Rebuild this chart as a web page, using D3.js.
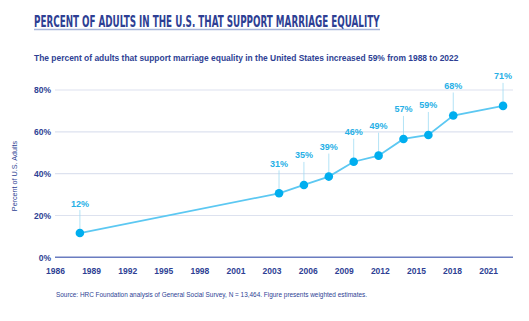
<!DOCTYPE html>
<html><head><meta charset="utf-8">
<script src="https://cdn.jsdelivr.net/npm/d3@7"></script>
<style>body{margin:0;background:#fff}svg{display:block}</style>
</head><body>
<script>
const years = [1988, 2004, 2006, 2008, 2010, 2012, 2014, 2016, 2018, 2022];
const values = [11.6, 30.6, 34.6, 38.6, 45.7, 48.6, 56.6, 58.5, 67.8, 72.4];
const pointLabels = ["12%", "31%", "35%", "39%", "46%", "49%", "57%", "59%", "68%", "71%"];
const xTickLabels = ["1986","1989","1992","1995","1998","2001","2003","2006","2009","2012","2015","2018","2021"];
const yTicks = [0, 20, 40, 60, 80];
const titleText = "PERCENT OF ADULTS IN THE U.S. THAT SUPPORT MARRIAGE EQUALITY";
const subtitleText = "The percent of adults that support marriage equality in the United States increased 59% from 1988 to 2022";
const sourceText = "Source: HRC Foundation analysis of General Social Survey, N = 13,464. Figure presents weighted estimates.";
const yAxisTitle = "Percent of U.S. Adults";

const W = 529, H = 321;
const navy = "#2e3f94", cyan = "#00aeef", lineCol = "#5cc8f2", labelCol = "#27b0e6";
const svg = d3.select("body").append("svg").attr("width", W).attr("height", H);

const x = d3.scaleLinear().domain([1986, 2022.8]).range([55, 513]);
const y = d3.scaleLinear().domain([0, 80]).range([257.3, 90]);

// fit a text horizontally to a target width by scaling
function fitText(sel, targetW) {
  const w = sel.node().getComputedTextLength();
  const sx = targetW / w;
  const x0 = +sel.attr("x"), y0 = +sel.attr("y");
  sel.attr("x", 0).attr("y", 0).attr("transform", `translate(${x0},${y0}) scale(${sx},1)`);
}

// title
const title = svg.append("text").attr("x", 34).attr("y", 27).text(titleText)
  .attr("font-family", "'Liberation Sans Narrow','DejaVu Sans Condensed',Arial,sans-serif")
  .attr("font-weight", "bold").attr("font-size", 15.5).attr("fill", navy);
fitText(title, 346);
svg.append("line").attr("x1", 34).attr("x2", 380).attr("y1", 29.5).attr("y2", 29.5)
  .attr("stroke", "#a9b6da").attr("stroke-width", 1.5);

const sub = svg.append("text").attr("x", 34).attr("y", 61).text(subtitleText)
  .attr("font-family", "'Liberation Sans',Arial,sans-serif").attr("font-weight", "bold")
  .attr("font-size", 8.8).attr("fill", navy);
fitText(sub, 425);

// gridlines
svg.append("g").selectAll("line").data(yTicks).join("line")
  .attr("x1", 55).attr("x2", 513).attr("y1", d => y(d)).attr("y2", d => y(d))
  .attr("stroke", d => d === 0 ? "#6a7cc0" : "#dde2ef")
  .attr("stroke-width", d => d === 0 ? 1.6 : 1.2);

// y axis labels
const yAxis = d3.axisLeft(y).tickValues(yTicks).tickFormat(d => d + "%").tickSize(0).tickPadding(4);
const gy = svg.append("g").attr("transform", "translate(55,0)").call(yAxis);
gy.select(".domain").remove();
gy.selectAll("text").attr("font-family", "'Liberation Sans',Arial,sans-serif")
  .attr("font-weight", "bold").attr("font-size", 8.5).attr("fill", navy);

// x axis labels
const xTickVals = xTickLabels.map((d, i) => 1986 + 2.9 * i);
const xAxis = d3.axisBottom(x).tickValues(xTickVals).tickFormat((d, i) => xTickLabels[i]).tickSize(0).tickPadding(11);
const gx = svg.append("g").attr("transform", "translate(0,257.3)").call(xAxis);
gx.select(".domain").remove();
gx.selectAll("text").attr("font-family", "'Liberation Sans',Arial,sans-serif")
  .attr("font-weight", "bold").attr("font-size", 8.5).attr("fill", navy);

// y axis title
svg.append("text").attr("transform", "translate(17,176) rotate(-90)")
  .attr("text-anchor", "middle").text(yAxisTitle)
  .attr("font-family", "'Liberation Sans',Arial,sans-serif").attr("font-size", 7.2).attr("fill", navy);

const data = years.map((yr, i) => ({yr, v: values[i], lab: pointLabels[i]}));

// leader lines
svg.append("g").selectAll("line").data(data).join("line")
  .attr("x1", d => x(d.yr)).attr("x2", d => x(d.yr))
  .attr("y1", d => y(d.v) - 23).attr("y2", d => y(d.v))
  .attr("stroke", "#9fdcf4").attr("stroke-width", 0.8);

// line
svg.append("path").datum(data)
  .attr("d", d3.line().x(d => x(d.yr)).y(d => y(d.v)))
  .attr("fill", "none").attr("stroke", lineCol).attr("stroke-width", 1.8);

// points
svg.append("g").selectAll("circle").data(data).join("circle")
  .attr("cx", d => x(d.yr)).attr("cy", d => y(d.v)).attr("r", 4.3).attr("fill", cyan);

// point labels
svg.append("g").selectAll("text").data(data).join("text")
  .attr("x", d => x(d.yr)).attr("y", d => y(d.v) - 26.5)
  .attr("text-anchor", "middle").text(d => d.lab)
  .attr("font-family", "'Liberation Sans',Arial,sans-serif").attr("font-weight", "bold")
  .attr("font-size", 9).attr("fill", labelCol);

// source
const src = svg.append("text").attr("x", 56).attr("y", 297).text(sourceText)
  .attr("font-family", "'Liberation Sans',Arial,sans-serif").attr("font-size", 6.4).attr("fill", navy);
fitText(src, 311);
</script>
</body></html>
